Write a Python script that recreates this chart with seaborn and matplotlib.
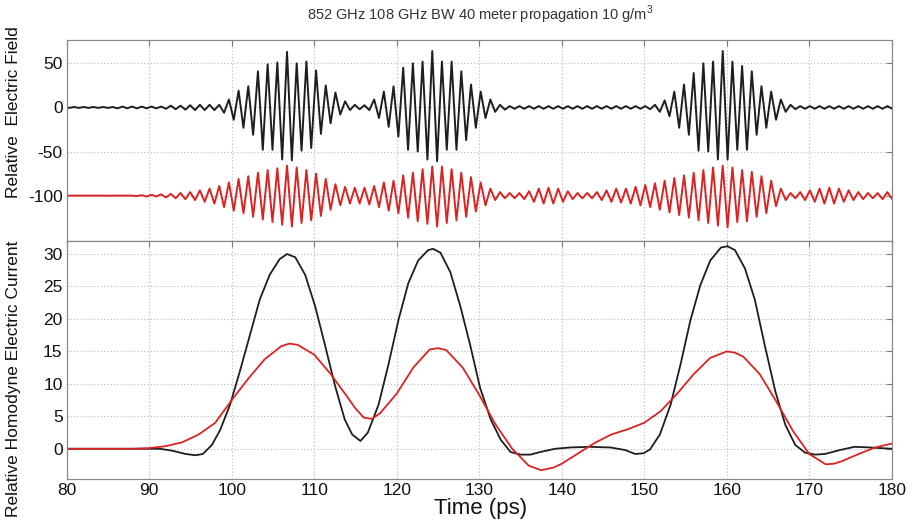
import numpy as np
import pandas as pd
import matplotlib
matplotlib.use("Agg")
import matplotlib.pyplot as plt
import seaborn as sns

# ---------------- data ----------------
CARRIER_GHZ = 852.0          # carrier frequency (title)
FIRST_PEAK_PS = 106.7        # time of the tallest positive crest of pulse 1
K_START = -46                # index of first half-cycle extremum drawn
RED_OFFSET = -100.0          # vertical offset of the red trace

# amplitude of each successive half-cycle extremum (alternating sign)
black_amp = [0.5, 0.5, 0.5, 0.5, 0.5, 0.5, 0.5, 0.5, 0.5, 0.5, 0.5,
             1, 1, 1, 1, 1, 1, 1, 1, 1, 1,
             1.5, 2, 2, 2, 2.5, 2.5, 3, 3, 3, 3, 3, 3,
             6, 9, 14, 19, 23, 24, 31, 41, 48, 49, 48, 51, 59, 63, 60, 50, 49, 52,
             46, 42, 30, 25, 18, 17, 8, 7, 3, 3, 2, 2.5, 3, 9, 12, 18, 22, 24, 33,
             45, 48, 50, 50, 52, 59, 64, 61, 52, 48, 52, 48, 41, 37, 26, 23, 18,
             12, 9, 5, 3, 2.5,
             1.5, 1.5, 1.5, 1.5, 1.5, 1.5, 1.5, 1.5, 1.5, 1.5, 1.5, 1.5, 1.5, 1.5,
             1.5, 1.5, 1.5, 1.5, 1.5, 1.5, 1.5, 1.5, 1.5, 1.5, 1.5, 1.5, 1.5, 1.5, 1.5,
             2, 3, 5, 8, 10, 18, 23, 26, 31, 39, 49, 50, 50, 52, 59, 64, 59, 52, 48,
             47, 48, 41, 31, 24, 23, 18, 14, 9, 5, 3, 2,
             1.5, 1.5, 1.5, 1.5, 1.5, 1.5, 1.5, 1.5, 1.5, 1.5, 1.5, 1.5, 1.5, 1.5,
             1.5, 1.5, 1.5, 1.5, 1.5, 1.5]

red_amp = [0, 0, 0, 0, 0, 0, 0, 0, 0, 0, 0, 0, 0, 0, 0,
           0.5, 0.5, 1, 1, 1, 1.5, 2, 2, 3, 3, 4, 4, 5, 6, 7, 8, 9, 11, 13, 15,
           17, 19, 20, 22, 24, 26, 27, 29, 30, 31, 33, 34, 35, 32, 31, 29, 28,
           25, 23, 19, 16, 13, 11, 10, 9, 9, 9, 9, 10, 11, 13, 15, 17, 17, 20,
           23, 25, 26, 29, 30, 32, 33, 35, 33, 31, 30, 28, 26, 24, 21, 18, 15,
           11, 8, 5, 4, 3, 3, 3, 3, 4, 5, 7, 8, 9, 9, 9, 8, 7, 5, 4, 3, 3, 3,
           3, 4, 5, 6, 7, 8, 8, 8, 9, 10, 11, 12, 13, 14, 16, 17, 19, 20, 22,
           23, 25, 26, 28, 29, 31, 32, 34, 34, 36, 32, 30, 29, 29, 27, 24, 22,
           20, 17, 12, 8, 5, 3, 3, 4, 5, 6, 7, 8, 9, 9, 9, 8, 7, 6, 5, 4, 4,
           3, 3, 3, 4, 4, 4]

# homodyne current (bottom panel)
black_t = [80, 85, 90, 91.3, 92.8, 94.4, 95.6, 96.5, 97.6, 98.6, 99.8, 101.0,
           102.2, 103.4, 104.6, 105.8, 106.7, 107.7, 108.9, 110.1, 111.3, 112.5,
           113.7, 114.6, 115.6, 116.5, 117.8, 119.0, 120.2, 121.4, 122.6, 123.8,
           124.4, 125.3, 126.5, 127.7, 128.9, 130.1, 131.4, 132.6, 133.8, 135.0,
           136.2, 137.4, 139.2, 141.0, 143.4, 145.9, 147.7, 148.9, 149.9, 150.7,
           151.9, 153.2, 154.4, 155.6, 156.8, 158.0, 159.3, 160.1, 161.0, 162.2,
           163.4, 164.6, 165.9, 167.1, 168.3, 169.5, 170.7, 171.9, 173.7, 175.5,
           177.4, 180]
black_i = [0, 0, 0, 0, -0.3, -0.8, -1.0, -0.8, 0.6, 2.9, 6.8, 12.0,
           17.5, 23.0, 26.8, 29.2, 30.0, 29.5, 26.8, 22.0, 16.0, 9.8,
           4.5, 2.2, 1.2, 2.5, 6.8, 13.0, 19.8, 25.5, 29.0, 30.6,
           30.8, 30.2, 27.2, 22.0, 16.0, 9.4, 4.5, 1.4, -0.5, -0.9,
           -0.9, -0.5, 0, 0.2, 0.3, 0.2, -0.2, -0.8, -0.7, -0.1,
           2.2, 6.8, 13.0, 19.8, 25.2, 29.0, 31.0, 31.2, 30.6, 27.8,
           23.0, 16.0, 8.8, 3.7, 0.6, -0.6, -0.9, -0.8, -0.2, 0.3,
           0.2, 0]

red_t = [80, 85, 88, 90, 92, 94, 96, 98, 100, 102, 104, 106, 107, 108, 110,
         112, 114, 115, 116, 117, 118, 120, 122, 124, 125, 126, 128, 130, 132,
         134, 136, 137.5, 139, 140, 142, 144, 146, 148, 150, 152, 154, 156, 158,
         160, 161, 162, 164, 166, 168, 170, 172, 173, 174, 176, 178, 180]
red_i = [0, 0, 0, 0.1, 0.4, 1.0, 2.2, 4.0, 7.5, 10.8, 13.8, 15.8, 16.2, 16.0, 14.5,
         11.5, 8.0, 6.2, 4.8, 4.6, 5.5, 8.5, 12.5, 15.3, 15.5, 15.2, 12.5, 8.3, 3.7,
         0.0, -2.6, -3.3, -2.9, -2.3, -0.7, 0.9, 2.2, 3.0, 4.0, 5.8, 8.5, 11.5, 14.0,
         15.0, 14.8, 14.2, 11.5, 7.3, 2.8, -0.8, -2.4, -2.3, -1.9, -0.8, 0.2, 0.8]

x_ticks = [80, 90, 100, 110, 120, 130, 140, 150, 160, 170, 180]
top_yticks = [-100, -50, 0, 50]
bot_yticks = [0, 5, 10, 15, 20, 25, 30]

TITLE = "852 GHz 108 GHz BW 40 meter propagation 10 g/m$^3$"
TOP_YLABEL = "Relative  Electric Field"
BOT_YLABEL = "Relative Homodyne Electric Current"
XLABEL = "Time (ps)"

# ---------------- build tables ----------------
half_period = 1000.0 / CARRIER_GHZ / 2.0
k = np.arange(K_START, K_START + len(black_amp))
t_ext = FIRST_PEAK_PS + k * half_period
sign = np.where(k % 2 == 0, 1.0, -1.0)
field_df = pd.DataFrame({
    "t": np.concatenate([t_ext, t_ext]),
    "v": np.concatenate([sign * np.array(black_amp),
                         RED_OFFSET + sign * np.array(red_amp)]),
    "s": ["black"] * len(k) + ["red"] * len(k),
})
cur_df = pd.DataFrame({
    "t": black_t + red_t,
    "v": black_i + red_i,
    "s": ["black"] * len(black_t) + ["red"] * len(red_t),
})

# ---------------- plot ----------------
sns.set_style("white")
plt.rcParams["font.family"] = ["Liberation Sans", "DejaVu Sans"]
plt.rcParams["mathtext.fontset"] = "custom"
plt.rcParams["mathtext.rm"] = "Liberation Sans"
plt.rcParams["axes.unicode_minus"] = False
plt.rcParams["lines.solid_joinstyle"] = "round"

BLACK = "#1e1e1e"
RED = "#d92424"
palette = {"black": BLACK, "red": RED}

fig = plt.figure(figsize=(9.13, 5.2), dpi=100)
ax1 = fig.add_axes([0.0731, 0.5371, 0.9036, 0.3860])
ax2 = fig.add_axes([0.0731, 0.0783, 0.9036, 0.4588])

for ax in (ax1, ax2):
    ax.set_axisbelow(True)
    ax.grid(True, linestyle=(0, (1, 2)), color="#b8b8b8", linewidth=0.8)

sns.lineplot(data=field_df, x="t", y="v", hue="s", palette=palette, ax=ax1,
             estimator=None, sort=False, linewidth=1.4, legend=False)
sns.lineplot(data=cur_df, x="t", y="v", hue="s", palette=palette, ax=ax2,
             estimator=None, sort=False, linewidth=1.3, legend=False)

ax1.set_xlim(80, 180)
ax2.set_xlim(80, 180)
ax1.set_ylim(-151.1, 76.5)
ax2.set_ylim(-4.7, 32.05)
ax1.set_xticks(x_ticks)
ax2.set_xticks(x_ticks)
ax1.set_yticks(top_yticks)
ax2.set_yticks(bot_yticks)
ax1.set_xticklabels([])
ax2.set_xticklabels([str(v) for v in x_ticks])
ax1.set_xlabel("")
ax1.set_ylabel("")
ax2.set_xlabel("")
ax2.set_ylabel("")

for ax in (ax1, ax2):
    ax.tick_params(direction="in", top=True, right=True, length=4,
                   width=0.8, color="#777777", labelsize=12.5,
                   labelcolor="#111111", pad=3)
    for sp in ax.spines.values():
        sp.set_color("#8a8a8a")
        sp.set_linewidth(0.9)

fig.text(0.526, 0.971, TITLE, ha="center", va="center", fontsize=10.5,
         color="#333333")
fig.text(0.0153, 0.785, TOP_YLABEL, rotation=90, ha="center", va="center",
         fontsize=12.5, color="#111111")
fig.text(0.0153, 0.272, BOT_YLABEL, rotation=90, ha="center", va="center",
         fontsize=12.5, color="#111111")
fig.text(0.526, 0.022, XLABEL, ha="center", va="center", fontsize=16,
         color="#111111")

fig.savefig("out.png", dpi=100)
